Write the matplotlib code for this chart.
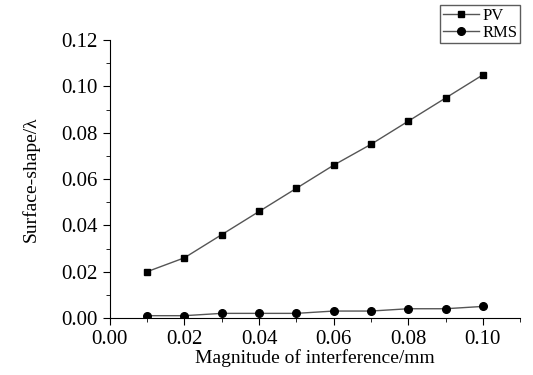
import matplotlib
matplotlib.use('Agg')
import matplotlib.pyplot as plt
from matplotlib.ticker import MultipleLocator

# 数据
x = [0.01, 0.02, 0.03, 0.04, 0.05, 0.06, 0.07, 0.08, 0.09, 0.10]
pv = [0.020, 0.026, 0.036, 0.046, 0.056, 0.066, 0.075, 0.085, 0.095, 0.105]
rms = [0.001, 0.001, 0.002, 0.002, 0.002, 0.003, 0.003, 0.004, 0.004, 0.005]

plt.rcParams['font.family'] = ['Liberation Serif', 'DejaVu Serif']

fig = plt.figure(figsize=(5.33, 3.75), dpi=100)
ax = fig.add_axes([0.206, 0.152, 0.770, 0.741])

ax.plot(x, pv, color='#555555', lw=1.0, marker='s', ms=5,
        mfc='black', mec='black', label='PV')
ax.plot(x, rms, color='#555555', lw=1.0, marker='o', ms=5.5,
        mfc='black', mec='black', label='RMS')

ax.set_xlim(0, 0.11)
ax.set_ylim(0, 0.12)
ax.xaxis.set_major_locator(MultipleLocator(0.02))
ax.xaxis.set_minor_locator(MultipleLocator(0.01))
ax.yaxis.set_major_locator(MultipleLocator(0.02))
ax.yaxis.set_minor_locator(MultipleLocator(0.01))
ax.xaxis.set_major_formatter(plt.FuncFormatter(lambda v, p: f'{v:.2f}'))
ax.yaxis.set_major_formatter(plt.FuncFormatter(lambda v, p: f'{v:.2f}'))

ax.spines['top'].set_visible(False)
ax.spines['right'].set_visible(False)
ax.tick_params(axis='both', which='major', direction='out', length=5, labelsize=15)
ax.tick_params(axis='both', which='minor', direction='out', length=3)

ax.set_xlabel('Magnitude of interference/mm', fontsize=14, labelpad=0)
ax.set_ylabel('Surface-shape/λ', fontsize=14, labelpad=16)

leg = ax.legend(loc='upper right', bbox_to_anchor=(1.0, 1.125), fontsize=12,
                frameon=True, fancybox=False, edgecolor='#333333',
                handlelength=2.2, borderpad=0.15, labelspacing=0.05,
                handletextpad=0.2, borderaxespad=0)
leg.get_frame().set_linewidth(1.0)

fig.savefig('out.png', dpi=100)
